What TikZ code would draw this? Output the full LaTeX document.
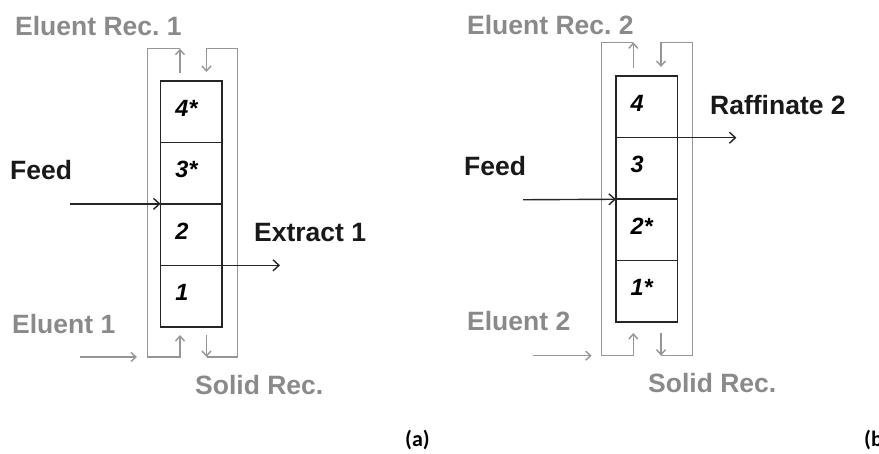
\documentclass[tikz,border=0pt]{standalone}
\usepackage{fontspec}
\setmainfont{Liberation Sans}
\newfontfamily\capfont{Carlito}
\usepackage{xcolor}
\usetikzlibrary{arrows.meta,positioning}

\definecolor{recgray}{RGB}{138,138,138}
\definecolor{linegray}{RGB}{150,150,150}

\tikzset{
  cellbox/.style={draw=black!85, line width=1.5pt, minimum width=61.5pt, minimum height=61.5pt, inner sep=0pt, outer sep=0pt},
  cellnum/.style={font=\fontsize{23.5}{26}\selectfont\bfseries\itshape, anchor=base west, inner sep=0pt},
  streamlbl/.style={font=\fontsize{26.5}{30}\selectfont\bfseries, anchor=base west, inner sep=0pt, text=black!90},
  reclbl/.style={streamlbl, text=recgray},
  panellbl/.style={font=\capfont\fontsize{22}{24}\selectfont\bfseries, anchor=base west, inner sep=0pt},
  flow/.style={draw=black!85, line width=1.4pt, -{Straight Barb[length=6pt,width=11pt]}},
  recarrow/.style={draw=linegray, line width=1.4pt, -{Straight Barb[length=5pt,width=9pt]}},
}

\begin{document}
\begin{tikzpicture}[x=1pt,y=1pt]
\useasboundingbox (0,0) rectangle (879,453);

% (a) column
\node[cellbox] (a4) at (191.3,341.4) {};
\node[cellbox, below=0pt of a4] (a3) {};
\node[cellbox, below=0pt of a3] (a2) {};
\node[cellbox, below=0pt of a2] (a1) {};
\foreach \i/\t in {4/4*,3/3*,2/2,1/1}
  \node[cellnum] (la\i) at ([xshift=14.5pt,yshift=-4.5pt]a\i.west) {\t};

% (a) recycle loops
\coordinate (aTL) at (147.3,404.3);
\coordinate (aTU) at (180,404.3);
\coordinate (aTD) at (206.5,404.3);
\coordinate (aTR) at (237.3,404.3);
\coordinate (aBL) at (147.3,96);
\coordinate (aBU) at (180,96);
\coordinate (aBD) at (206.5,96);
\coordinate (aBR) at (237.3,96);
\coordinate (aUo) at (180,380);
\coordinate (aUi) at (180,118);
\coordinate (aDo) at (206.5,118);
\coordinate (aDi) at (206.5,381);
\draw[recarrow] (aUo) -- (aTU);
\draw[recarrow] (aTU) -- (aTL) -- (aBL) -- (aBU) -- (aUi);
\draw[recarrow] (aDo) -- (aBD);
\draw[recarrow] (aBD) -- (aBR) -- (aTR) -- (aTD) -- (aDi);

% (a) streams
\coordinate (aF) at (70,249.15);
\coordinate (aX) at ([xshift=58pt]a1.north east);
\coordinate (aE0) at (80,96);
\coordinate (aE1) at (137,96);
\draw[flow] (aF) -- (a2.north west);
\draw[flow] (a1.north east) -- (aX);
\draw[recarrow] (aE0) -- (aE1);

\node[reclbl] (aRec) at (15,417) {Eluent Rec.\ 1};
\node[streamlbl] (aFeed) at (10,273) {Feed};
\node[streamlbl] (aExt) at (254,211) {Extract 1};
\node[reclbl] (aElu) at (12,119) {Eluent 1};
\node[reclbl] (aSol) at (195,59) {Solid Rec.};
\node[panellbl] (capA) at (405,7) {(a)};

% (b) column
\node[cellbox] (b4) at (646.7,346) {};
\node[cellbox, below=0pt of b4] (b3) {};
\node[cellbox, below=0pt of b3] (b2) {};
\node[cellbox, below=0pt of b2] (b1) {};
\foreach \i/\t in {4/4,3/3,2/2*,1/1*}
  \node[cellnum] (lb\i) at ([xshift=14.5pt,yshift=-4.5pt]b\i.west) {\t};

% (b) recycle loops
\coordinate (bTL) at (601.7,410.7);
\coordinate (bTU) at (633.3,410.7);
\coordinate (bTD) at (661,410.7);
\coordinate (bTR) at (692.3,410.7);
\coordinate (bBL) at (601.7,97.3);
\coordinate (bBU) at (633.3,97.3);
\coordinate (bBD) at (661,97.3);
\coordinate (bBR) at (692.3,97.3);
\coordinate (bUo) at (633.3,385);
\coordinate (bUi) at (633.3,120);
\coordinate (bDo) at (661,120);
\coordinate (bDi) at (661,386);
\draw[recarrow] (bUo) -- (bTU);
\draw[recarrow] (bTU) -- (bTL) -- (bBL) -- (bBU) -- (bUi);
\draw[recarrow] (bDo) -- (bBD);
\draw[recarrow] (bBD) -- (bBR) -- (bTR) -- (bTD) -- (bDi);

% (b) streams
\coordinate (bF) at (523,253.25);
\coordinate (bR) at ([xshift=59pt]b3.north east);
\coordinate (bE0) at (533,97.3);
\coordinate (bE1) at (591.7,97.3);
\draw[flow] (bF) -- (b2.north west);
\draw[flow] (b3.north east) -- (bR);
\draw[recarrow] (bE0) -- (bE1);

\node[reclbl] (bRec) at (467,418) {Eluent Rec.\ 2};
\node[streamlbl] (bRaf) at (710,338.7) {Raffinate 2};
\node[streamlbl] (bFeed) at (464,277.3) {Feed};
\node[reclbl] (bElu) at (467,122) {Eluent 2};
\node[reclbl] (bSol) at (648,60.3) {Solid Rec.};
\node[panellbl] (capB) at (864,7) {(b)};
\end{tikzpicture}
\end{document}
